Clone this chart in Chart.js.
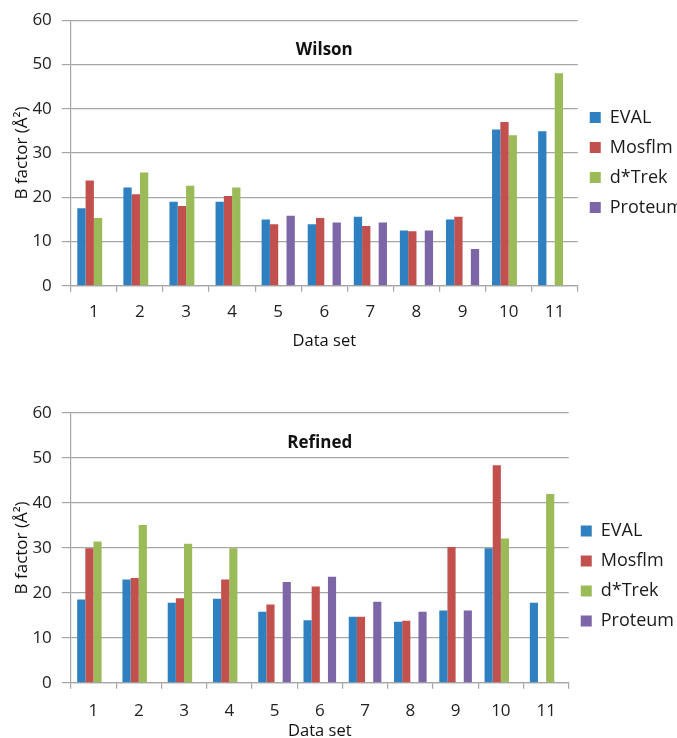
<!DOCTYPE html>
<html>
<head>
<meta charset="utf-8">
<script src="https://cdn.jsdelivr.net/npm/chart.js@4.4.1/dist/chart.umd.min.js"></script>
<style>
  body { margin: 0; background: #fff; width: 677px; height: 738px; overflow: hidden; position: relative; }
  canvas { position: absolute; left: 0; }
  #wilson { top: 0; }
  #refined { top: 390px; }
</style>
</head>
<body>
<canvas id="wilson" width="700" height="362"></canvas>
<canvas id="refined" width="700" height="360"></canvas>
<script>
const dataSets = ['1', '2', '3', '4', '5', '6', '7', '8', '9', '10', '11']
const programs = ['EVAL', 'Mosflm', 'd*Trek', 'Proteum']
const programColors = ['#2f80c1', '#c2504d', '#9bbb59', '#7d66a8']
const yTicks = [0, 10, 20, 30, 40, 50, 60]

// Wilson B factors
const wilsonEval    = [17.5, 22.2, 19.0, 19.0, 15.0, 13.9, 15.6, 12.5, 15.0, 35.3, 34.9]
const wilsonMosflm  = [23.8, 20.7, 18.0, 20.3, 13.9, 15.3, 13.5, 12.3, 15.6, 37.0, null]
const wilsonDTrek   = [15.3, 25.6, 22.6, 22.2, null, null, null, null, null, 34.0, 48.0]
const wilsonProteum = [null, null, null, null, 15.8, 14.3, 14.3, 12.5, 8.3, null, null]

// refined B factors
const refinedEval    = [18.5, 23.0, 17.8, 18.7, 15.8, 13.9, 14.7, 13.6, 16.1, 29.9, 17.8]
const refinedMosflm  = [29.9, 23.3, 18.8, 23.0, 17.4, 21.4, 14.7, 13.8, 30.2, 48.4, null]
const refinedDTrek   = [31.4, 35.1, 30.9, 29.9, null, null, null, null, null, 32.1, 42.0]
const refinedProteum = [null, null, null, null, 22.4, 23.6, 18.0, 15.8, 16.1, null, null]

const FONT = '"Open Sans", "DejaVu Sans", sans-serif'
const GRID = '#a6a6a6'

// title drawn inside the plot area, like the original
const innerTitle = {
    id: 'innerTitle',
    afterDraw(chart, args, opts) {
        const { ctx, chartArea } = chart
        ctx.save()
        ctx.font = 'bold 17px ' + FONT
        ctx.fillStyle = '#111'
        ctx.textAlign = 'center'
        ctx.textBaseline = 'middle'
        ctx.fillText(opts.text, (chartArea.left + chartArea.right) / 2, chartArea.top + opts.offset)
        ctx.restore()
    }
}

function makeChart(id, title, series, s) {
    const ctx = document.getElementById(id).getContext('2d')
    return new Chart(ctx, {
        type: 'bar',
        data: {
            labels: dataSets,
            datasets: series.map((values, i) => ({
                label: programs[i],
                data: values,
                backgroundColor: programColors[i],
                borderWidth: 0,
                barPercentage: 1,
                categoryPercentage: 0.72
            }))
        },
        options: {
            responsive: false,
            animation: false,
            layout: { padding: s.pad },
            plugins: {
                innerTitle: { text: title, offset: 30 },
                tooltip: { enabled: false },
                legend: {
                    position: 'right',
                    fullSize: false,
                    // empty title only pushes the items down
                    title: { display: true, text: '', padding: { top: s.legendShift, bottom: 0 }, font: { size: 1 } },
                    labels: {
                        boxWidth: 11,
                        boxHeight: 11,
                        padding: 12,
                        color: '#1a1a1a',
                        font: { family: FONT, size: 18 }
                    }
                }
            },
            scales: {
                x: {
                    grid: { display: true, drawOnChartArea: false, offset: true, tickLength: 6, color: GRID, lineWidth: 1.2 },
                    border: { color: GRID, width: 1.2 },
                    ticks: { color: '#222', padding: s.xTickPad, font: { family: FONT, size: 17 } },
                    title: { display: true, text: 'Data set', color: '#111', padding: { top: s.xTitleTop, bottom: 0 }, font: { family: FONT, size: 16.5 } }
                },
                y: {
                    min: yTicks[0],
                    max: yTicks[yTicks.length - 1],
                    afterBuildTicks: axis => { axis.ticks = yTicks.map(v => ({ value: v })) },
                    grid: { color: GRID, tickLength: 9, lineWidth: 1.2 },
                    border: { color: GRID, width: 1.2 },
                    ticks: { color: '#222', padding: 10, font: { family: FONT, size: 17 } },
                    title: { display: true, text: 'B factor (Å²)', color: '#111', padding: { top: 3, bottom: -10 }, font: { family: FONT, size: 17 } }
                }
            }
        },
        plugins: [innerTitle]
    })
}

makeChart('wilson', 'Wilson',
    [wilsonEval, wilsonMosflm, wilsonDTrek, wilsonProteum],
    { pad: { left: 9, right: 7, top: 10, bottom: 11 }, legendShift: 18, xTickPad: 10, xTitleTop: -1 })

makeChart('refined', 'Refined',
    [refinedEval, refinedMosflm, refinedDTrek, refinedProteum],
    { pad: { left: 9, right: 16, top: 23, bottom: 9 }, legendShift: 55, xTickPad: 12, xTitleTop: -12 })
</script>
</body>
</html>
